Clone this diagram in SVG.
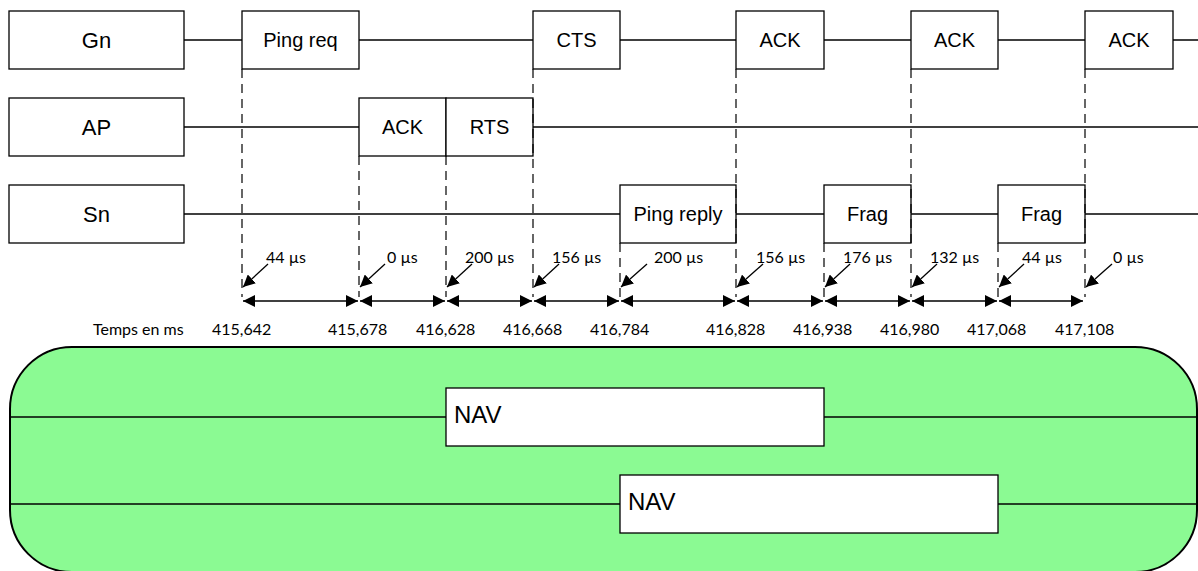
<svg xmlns="http://www.w3.org/2000/svg" width="1198" height="571" viewBox="0 0 1198 571">
  <style>
    .box { fill: #ffffff; stroke: #000000; stroke-width: 1.3; }
    .lane { fill: none; stroke: #000000; stroke-width: 1.3; }
    .guide { fill: none; stroke: #000000; stroke-width: 1.2; stroke-dasharray: 9 6; }
    .span { fill: none; stroke: #000000; stroke-width: 1.3; marker-start: url(#head); marker-end: url(#head); }
    .ptr { fill: none; stroke: #000000; stroke-width: 1.3; marker-end: url(#head); }
    .lbl { font-family: "Liberation Sans", Arial, sans-serif; font-size: 20px; fill: #000000; text-anchor: middle; }
    .lanelbl { font-family: "Liberation Sans", Arial, sans-serif; font-size: 22px; fill: #000000; text-anchor: middle; }
    .nav { font-family: "Liberation Sans", Arial, sans-serif; font-size: 24px; fill: #000000; }
    .small { font-family: Lato, "Open Sans", sans-serif; font-size: 16px; fill: #000000; }
  </style>
  <defs>
    <marker id="head" viewBox="0 0 12 12" markerWidth="12" markerHeight="12" refX="12" refY="6" orient="auto-start-reverse" markerUnits="userSpaceOnUse">
      <path d="M0,0 L12,6 L0,12 z" fill="#000000"/>
    </marker>
  </defs>

  <rect width="1198" height="571" fill="#ffffff"/>

  <!-- station lanes -->
  <g id="lanes">
    <line class="lane" x1="184" y1="40" x2="1198" y2="40"/>
    <line class="lane" x1="184" y1="127" x2="1198" y2="127"/>
    <line class="lane" x1="184" y1="214" x2="1198" y2="214"/>
  </g>

  <g id="gn">
    <rect class="box" x="9" y="11" width="175" height="58"/>
    <text class="lanelbl" x="96.5" y="48">Gn</text>
  </g>
  <g id="ap">
    <rect class="box" x="9" y="98" width="175" height="58"/>
    <text class="lanelbl" x="96.5" y="135">AP</text>
  </g>
  <g id="sn">
    <rect class="box" x="9" y="185" width="175" height="58"/>
    <text class="lanelbl" x="96.5" y="222">Sn</text>
  </g>

  <!-- frames sent by Gn -->
  <g id="gn-ping-req">
    <rect class="box" x="242" y="11" width="117" height="58"/>
    <text class="lbl" x="300.5" y="47">Ping req</text>
  </g>
  <g id="gn-cts">
    <rect class="box" x="533" y="11" width="87" height="58"/>
    <text class="lbl" x="576.5" y="47">CTS</text>
  </g>
  <g id="gn-ack-1">
    <rect class="box" x="736" y="11" width="88" height="58"/>
    <text class="lbl" x="780" y="47">ACK</text>
  </g>
  <g id="gn-ack-2">
    <rect class="box" x="911" y="11" width="87" height="58"/>
    <text class="lbl" x="954.5" y="47">ACK</text>
  </g>
  <g id="gn-ack-3">
    <rect class="box" x="1085" y="11" width="88" height="58"/>
    <text class="lbl" x="1129" y="47">ACK</text>
  </g>

  <!-- frames sent by AP -->
  <g id="ap-ack">
    <rect class="box" x="359" y="98" width="87" height="58"/>
    <text class="lbl" x="402.5" y="134">ACK</text>
  </g>
  <g id="ap-rts">
    <rect class="box" x="446" y="98" width="87" height="58"/>
    <text class="lbl" x="489.5" y="134">RTS</text>
  </g>

  <!-- frames sent by Sn -->
  <g id="sn-ping-reply">
    <rect class="box" x="620" y="185" width="116" height="58"/>
    <text class="lbl" x="678" y="221">Ping reply</text>
  </g>
  <g id="sn-frag-1">
    <rect class="box" x="824" y="185" width="87" height="58"/>
    <text class="lbl" x="867.5" y="221">Frag</text>
  </g>
  <g id="sn-frag-2">
    <rect class="box" x="998" y="185" width="87" height="58"/>
    <text class="lbl" x="1041.5" y="221">Frag</text>
  </g>

  <!-- time guides, intervals and pointers -->
  <g id="connectors">
    <line class="guide" x1="242" y1="69" x2="242" y2="297"/>
    <line class="guide" x1="359" y1="156" x2="359" y2="297"/>
    <line class="guide" x1="446" y1="156" x2="446" y2="297"/>
    <line class="guide" x1="533" y1="69" x2="533" y2="297"/>
    <line class="guide" x1="620" y1="243" x2="620" y2="297"/>
    <line class="guide" x1="736" y1="69" x2="736" y2="297"/>
    <line class="guide" x1="824" y1="243" x2="824" y2="297"/>
    <line class="guide" x1="911" y1="69" x2="911" y2="297"/>
    <line class="guide" x1="998" y1="243" x2="998" y2="297"/>
    <line class="guide" x1="1085" y1="69" x2="1085" y2="297"/>

    <line class="span" x1="243" y1="301" x2="358" y2="301"/>
    <line class="span" x1="360" y1="301" x2="445" y2="301"/>
    <line class="span" x1="447" y1="301" x2="532" y2="301"/>
    <line class="span" x1="534" y1="301" x2="619" y2="301"/>
    <line class="span" x1="621" y1="301" x2="735" y2="301"/>
    <line class="span" x1="737" y1="301" x2="823" y2="301"/>
    <line class="span" x1="825" y1="301" x2="910" y2="301"/>
    <line class="span" x1="912" y1="301" x2="997" y2="301"/>
    <line class="span" x1="999" y1="301" x2="1083" y2="301"/>

    <line class="ptr" x1="268" y1="264" x2="243" y2="287"/>
    <line class="ptr" x1="385" y1="264" x2="360" y2="287"/>
    <line class="ptr" x1="472" y1="264" x2="447" y2="287"/>
    <line class="ptr" x1="559" y1="264" x2="534" y2="287"/>
    <line class="ptr" x1="647" y1="264" x2="621" y2="287"/>
    <line class="ptr" x1="763" y1="264" x2="737" y2="287"/>
    <line class="ptr" x1="850" y1="264" x2="825" y2="287"/>
    <line class="ptr" x1="937" y1="264" x2="912" y2="287"/>
    <line class="ptr" x1="1024" y1="264" x2="999" y2="287"/>
    <line class="ptr" x1="1112" y1="264" x2="1086" y2="287"/>
  </g>

  <g id="durations">
    <text class="small" x="266" y="263">44 µs</text>
    <text class="small" x="387" y="263">0 µs</text>
    <text class="small" x="465" y="263">200 µs</text>
    <text class="small" x="552" y="263">156 µs</text>
    <text class="small" x="654" y="263">200 µs</text>
    <text class="small" x="756" y="263">156 µs</text>
    <text class="small" x="843" y="263">176 µs</text>
    <text class="small" x="930" y="263">132 µs</text>
    <text class="small" x="1022" y="263">44 µs</text>
    <text class="small" x="1113" y="263">0 µs</text>
  </g>

  <g id="timestamps">
    <text class="small" x="93" y="335">Temps en ms</text>
    <text class="small" x="212" y="335">415,642</text>
    <text class="small" x="328" y="335">415,678</text>
    <text class="small" x="416" y="335">416,628</text>
    <text class="small" x="503" y="335">416,668</text>
    <text class="small" x="590" y="335">416,784</text>
    <text class="small" x="706" y="335">416,828</text>
    <text class="small" x="793" y="335">416,938</text>
    <text class="small" x="880" y="335">416,980</text>
    <text class="small" x="967" y="335">417,068</text>
    <text class="small" x="1055" y="335">417,108</text>
  </g>

  <!-- NAV panel -->
  <g id="nav-panel">
    <rect x="10" y="347" width="1187" height="225" rx="62" ry="62" fill="#8bfa93" stroke="#000000" stroke-width="2"/>
    <line class="lane" x1="10" y1="417" x2="1197" y2="417"/>
    <line class="lane" x1="10" y1="504" x2="1197" y2="504"/>
  </g>
  <g id="nav-1">
    <rect class="box" x="446" y="388" width="378" height="58"/>
    <text class="nav" x="454" y="423">NAV</text>
  </g>
  <g id="nav-2">
    <rect class="box" x="620" y="475" width="378" height="58"/>
    <text class="nav" x="628" y="510">NAV</text>
  </g>
</svg>
